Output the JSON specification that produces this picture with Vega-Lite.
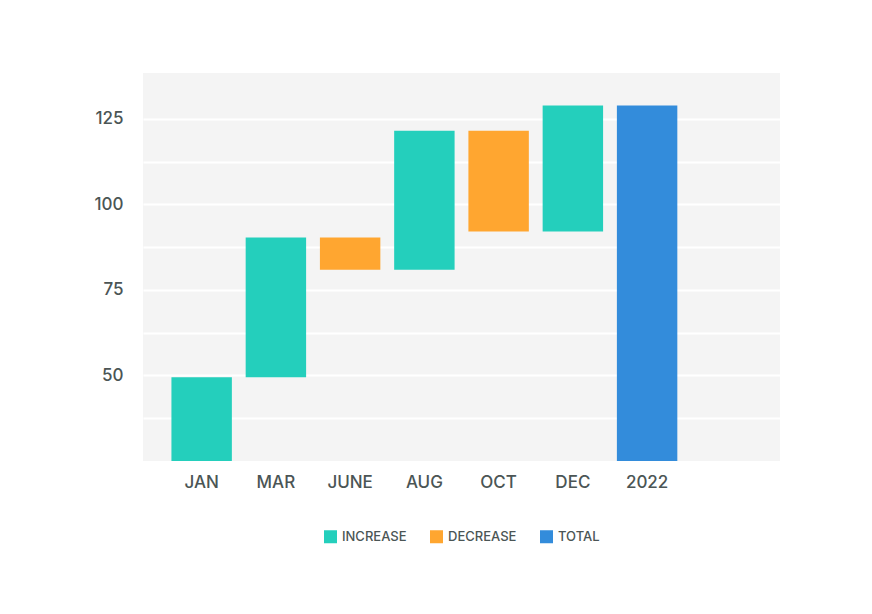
{
  "$schema": "https://vega.github.io/schema/vega-lite/v6.json",
  "width": 637,
  "height": 388,
  "autosize": {"type": "none"},
  "padding": {"left": 143, "top": 73, "right": 92, "bottom": 153},
  "background": "#ffffff",
  "data": {
    "values": [
      {"label": "JAN", "start": 0, "end": 49.5, "type": "INCREASE"},
      {"label": "MAR", "start": 49.5, "end": 90.3, "type": "INCREASE"},
      {"label": "JUNE", "start": 90.3, "end": 80.9, "type": "DECREASE"},
      {"label": "AUG", "start": 80.9, "end": 121.5, "type": "INCREASE"},
      {"label": "OCT", "start": 121.5, "end": 92.1, "type": "DECREASE"},
      {"label": "DEC", "start": 92.1, "end": 128.9, "type": "INCREASE"},
      {"label": "2022", "start": 0, "end": 128.9, "type": "TOTAL"}
    ]
  },
  "mark": {"type": "bar", "clip": true},
  "encoding": {
    "x": {
      "field": "label",
      "type": "nominal",
      "sort": null,
      "scale": {
        "domain": ["JAN", "MAR", "JUNE", "AUG", "OCT", "DEC", "2022", ""],
        "paddingInner": 0.186,
        "paddingOuter": 0.383
      },
      "axis": {
        "title": null,
        "labelAngle": 0,
        "ticks": false,
        "domain": false,
        "grid": false,
        "labelPadding": 13,
        "labelFontSize": 17,
        "labelFont": "Inter",
        "labelFontWeight": 500,
        "labelColor": "#4b5555"
      }
    },
    "y": {
      "field": "start",
      "type": "quantitative",
      "scale": {"domain": [25, 138.4], "nice": false, "zero": false},
      "axis": {
        "title": null,
        "values": [37.5, 50, 62.5, 75, 87.5, 100, 112.5, 125],
        "labelExpr": "datum.value % 25 === 0 ? datum.label : ''",
        "ticks": false,
        "domain": false,
        "grid": true,
        "gridColor": "#ffffff",
        "gridWidth": 2,
        "gridOpacity": 1,
        "labelPadding": 20,
        "labelFontSize": 17,
        "labelFont": "Inter",
        "labelFontWeight": 500,
        "labelColor": "#4b5555"
      }
    },
    "y2": {"field": "end"},
    "color": {
      "field": "type",
      "type": "nominal",
      "scale": {
        "domain": ["INCREASE", "DECREASE", "TOTAL"],
        "range": ["#24cfbc", "#ffa630", "#338cdb"]
      },
      "legend": {
        "title": null,
        "orient": "bottom",
        "direction": "horizontal",
        "offset": 40,
        "symbolType": "square",
        "symbolSize": 169,
        "symbolStrokeWidth": 0,
        "labelFontSize": 13,
        "labelFont": "Inter",
        "labelFontWeight": 500,
        "labelColor": "#4b5555",
        "labelOffset": 5,
        "columnPadding": 23
      }
    }
  },
  "config": {
    "view": {"fill": "#f4f4f4", "stroke": null},
    "legend": {"layout": {"bottom": {"anchor": "middle"}}}
  }
}
